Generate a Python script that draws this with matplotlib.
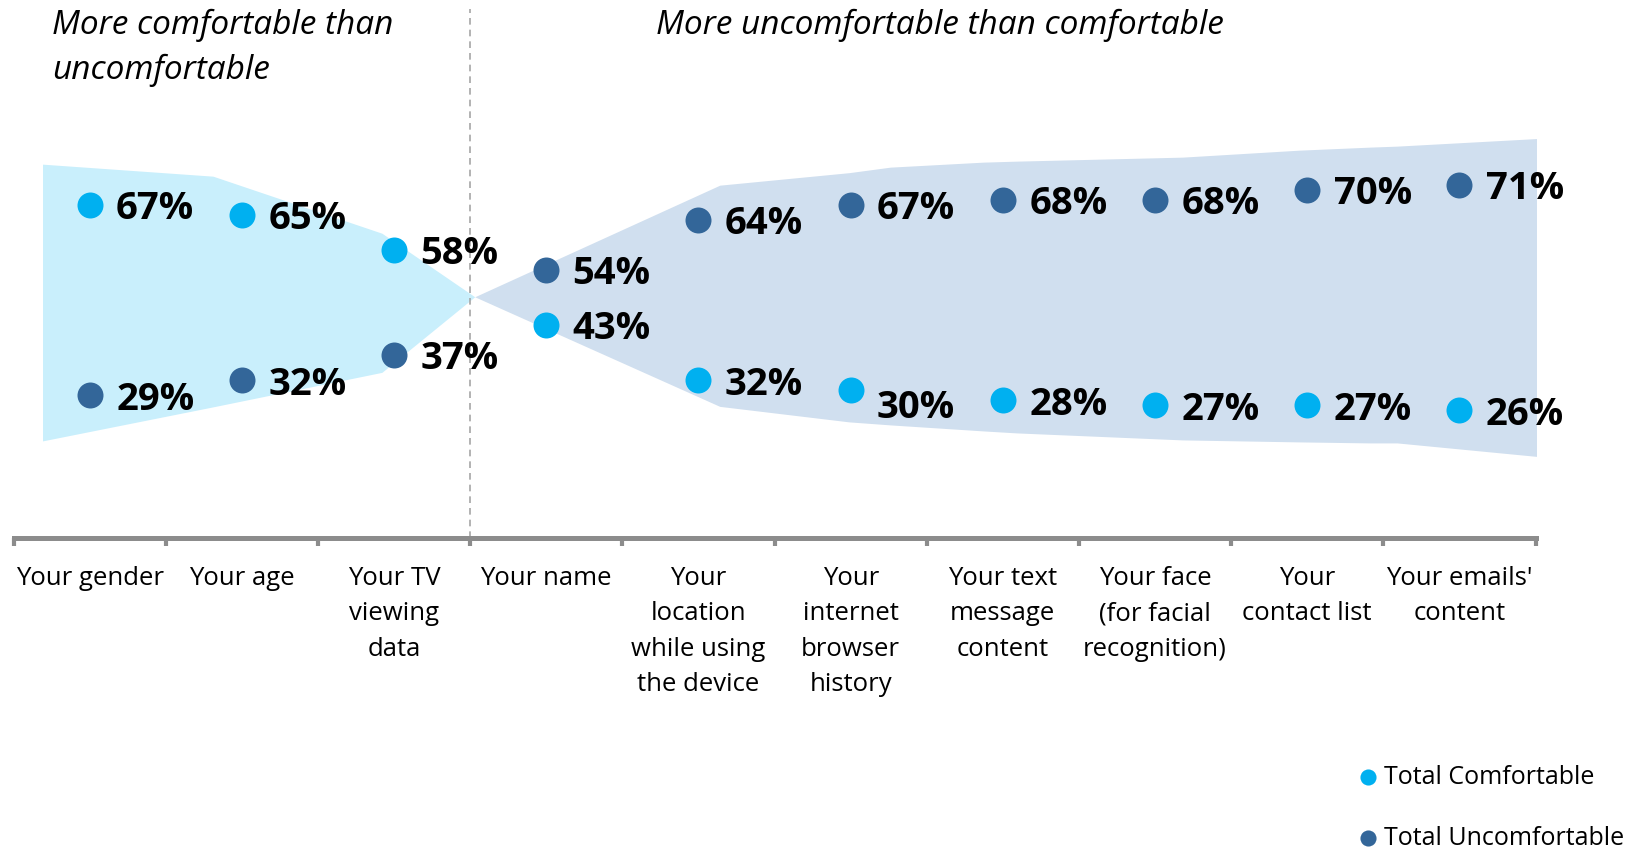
import matplotlib
matplotlib.use("Agg")
import matplotlib.pyplot as plt

# ---- data -------------------------------------------------------------
categories = [
    "Your gender", "Your age", "Your TV\nviewing\ndata", "Your name",
    "Your\nlocation\nwhile using\nthe device", "Your\ninternet\nbrowser\nhistory",
    "Your text\nmessage\ncontent", "Your face\n(for facial\nrecognition)",
    "Your\ncontact list", "Your emails'\ncontent",
]
comfortable = [67, 65, 58, 43, 32, 30, 28, 27, 27, 26]
uncomfortable = [29, 32, 37, 54, 64, 67, 68, 68, 70, 71]

# envelope shading (x in category units, y in %)
band_left_x = [-0.31, 0.81, 1.92, 2.53]
band_left_upper = [75.2, 72.8, 61.4, 48.7]
band_left_lower = [19.9, 26.7, 33.6, 48.7]

band_right_x = [2.53, 4.14, 4.99, 5.26, 5.87, 6.09, 7.18, 7.95, 8.41, 8.59, 9.68]
band_right_upper = [48.7, 71.0, 73.5, 74.6, 75.6, 75.8, 76.6, 78.0, 78.6, 78.8, 80.6]
band_right_lower = [48.7, 26.8, 23.7, 23.1, 21.9, 21.5, 20.1, 19.7, 19.5, 19.5, 16.3]

divider_x = 2.5

# ---- style ------------------------------------------------------------
C_COMF = "#00B0F0"
C_UNCOMF = "#336699"
C_BAND_L = "#C9EFFC"
C_BAND_R = "#D0DFEF"
C_AXIS = "#8C8C8C"

plt.rcParams["font.family"] = ["Open Sans", "DejaVu Sans"]

W, H = 1639, 849
fig = plt.figure(figsize=(W / 100, H / 100), dpi=100)
ax_left, ax_right = 13.6 / W, 1535.5 / W
ax_bottom = 1 - 538 / H
ax = fig.add_axes([ax_left, ax_bottom, ax_right - ax_left, 1 - ax_bottom])

ax.set_xlim(-0.5, len(categories) - 0.5)
ax.set_ylim(0.5, 108)

# shaded envelopes
ax.fill_between(band_left_x, band_left_lower, band_left_upper,
                color=C_BAND_L, linewidth=0, zorder=1)
ax.fill_between(band_right_x, band_right_lower, band_right_upper,
                color=C_BAND_R, linewidth=0, zorder=1)

# divider between the two groups
ax.vlines(divider_x, 0.5, 106.3, colors="#A6A6A6", linestyles=(0, (4, 3)),
          linewidth=1.2, zorder=2)

x = list(range(len(categories)))
sc_c = ax.scatter(x, comfortable, s=350, color=C_COMF, linewidth=0, zorder=3,
                  label="Total Comfortable")
sc_u = ax.scatter(x, uncomfortable, s=350, color=C_UNCOMF, linewidth=0, zorder=3,
                  label="Total Uncomfortable")

# value labels
nudge = {("c", 5): -10}
for i, (c, u) in enumerate(zip(comfortable, uncomfortable)):
    for key, v in (("c", c), ("u", u)):
        dy = -3 + nudge.get((key, i), 0)
        ax.annotate(f"{v}%", (i, v), xytext=(19, dy), textcoords="offset points",
                    ha="left", va="center", fontsize=27.5, fontweight="bold",
                    color="black", zorder=4)

# axis styling
for s in ("top", "right", "left"):
    ax.spines[s].set_visible(False)
ax.spines["bottom"].set_color(C_AXIS)
ax.spines["bottom"].set_linewidth(3.6)
ax.set_yticks([])
ax.set_xticks([i - 0.5 for i in range(len(categories) + 1)])
ax.set_xticklabels([])
ax.tick_params(axis="x", length=6, width=3, color=C_AXIS, direction="out")
ax.set_xticks(x, minor=True)
ax.set_xticklabels(categories, minor=True, fontsize=18.5, color="black",
                   linespacing=1.55, va="top")
ax.tick_params(axis="x", which="minor", length=0, pad=20)

# group headings
fig.text(52 / W, 1 - 9 / H, "More comfortable than\nuncomfortable",
         fontsize=24, fontstyle="italic", ha="left", va="top", linespacing=1.45)
fig.text(656 / W, 1 - 9 / H, "More uncomfortable than comfortable",
         fontsize=24, fontstyle="italic", ha="left", va="top")

# legend
fig.legend(handles=[sc_c, sc_u], loc="upper left",
           bbox_to_anchor=(1340 / W, 1 - 752 / H), frameon=False,
           fontsize=18, markerscale=0.62, handletextpad=0.05,
           labelspacing=1.45, handlelength=1.2, borderpad=0)

fig.savefig("out.png", dpi=100)
